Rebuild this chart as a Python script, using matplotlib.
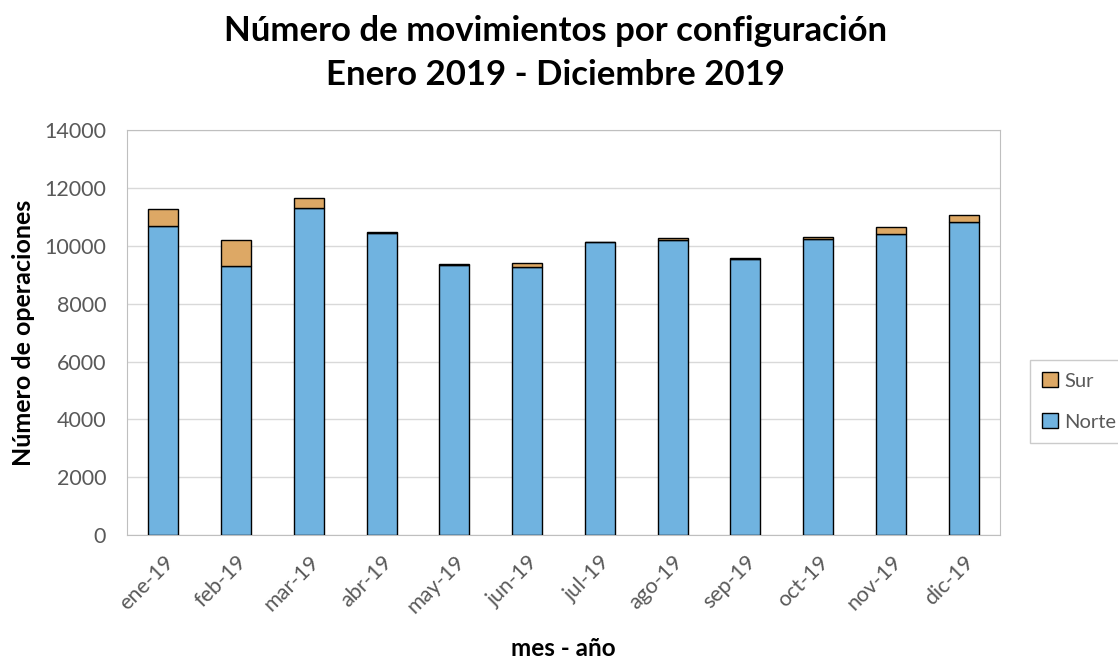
import matplotlib.pyplot as plt
import numpy as np

plt.rcParams['font.family'] = ['Lato', 'DejaVu Sans']

meses = ["ene-19", "feb-19", "mar-19", "abr-19", "may-19", "jun-19",
         "jul-19", "ago-19", "sep-19", "oct-19", "nov-19", "dic-19"]
norte = [10690, 9310, 11310, 10430, 9350, 9280, 10120, 10200, 9530, 10250, 10420, 10830]
sur = [590, 890, 325, 45, 10, 140, 10, 55, 55, 55, 230, 240]

gris = "#595959"

fig = plt.figure(figsize=(11.18, 6.6), dpi=100)
ax = fig.add_axes([0.1136, 0.189, 0.7809, 0.614])

x = np.arange(len(meses))
b1 = ax.bar(x, norte, width=0.41, color="#70b3e0", edgecolor="black", linewidth=1, label="Norte", zorder=3)
b2 = ax.bar(x, sur, width=0.41, bottom=norte, color="#dda865", edgecolor="black", linewidth=1, label="Sur", zorder=3)

ax.set_xlim(-0.5, len(meses) - 0.5)
ax.set_ylim(0, 14000)
ax.set_yticks(range(0, 14001, 2000))
ax.grid(axis="y", color="#d9d9d9", linewidth=1, zorder=0)
for s in ax.spines.values():
    s.set_color("#bfbfbf")
ax.tick_params(length=0, labelsize=15.5, colors=gris)
ax.tick_params(axis="y", pad=15)
ax.tick_params(axis="x", pad=12)
ax.set_xticks(x)
ax.set_xticklabels(meses, rotation=45, ha="right", rotation_mode="anchor")

# ejes con texto de figura para fijar la posicion
fig.text(0.021, 0.496, "Número de operaciones", rotation=90, ha="center", va="center",
         fontsize=18, fontweight="bold")
fig.text(0.504, 0.018, "mes - año", ha="center", va="center", fontsize=17.5, fontweight="bold")

fig.text(0.497, 0.953, "Número de movimientos por configuración", ha="center", va="center",
         fontsize=25, fontweight="bold")
fig.text(0.497, 0.887, "Enero 2019 - Diciembre 2019", ha="center", va="center",
         fontsize=25, fontweight="bold")

leg = fig.legend([b2, b1], ["Sur", "Norte"], loc="center left", bbox_to_anchor=(0.9213, 0.392),
                 borderaxespad=0, fontsize=14.5, frameon=True, fancybox=False,
                 handlelength=0.8, handleheight=0.8, labelspacing=1.15, borderpad=0.6,
                 handletextpad=0.3, labelcolor=gris)
leg.get_frame().set_edgecolor("#bfbfbf")
leg.get_frame().set_linewidth(1)

fig.savefig("out.png", dpi=100)
